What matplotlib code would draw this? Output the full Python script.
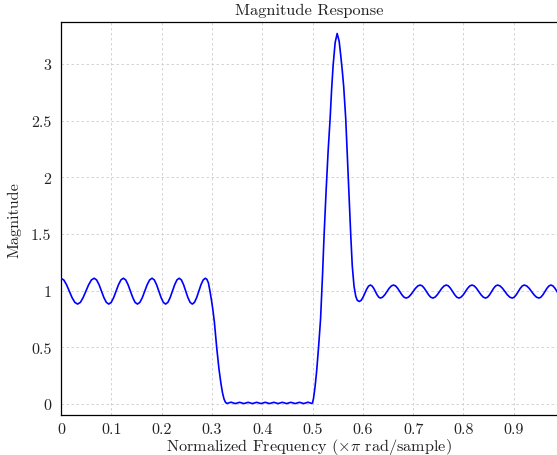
import matplotlib
matplotlib.use("Agg")
import matplotlib.pyplot as plt

plt.rcParams['font.family'] = 'serif'
plt.rcParams['font.serif'] = ['cmr10']
plt.rcParams['mathtext.fontset'] = 'cm'
plt.rcParams['axes.formatter.use_mathtext'] = True

# ---- data ----
freq_pass = [0.000, 0.0055, 0.011, 0.0165, 0.022, 0.0275,
             0.033, 0.0385, 0.044, 0.0495, 0.055, 0.0605,
             0.066, 0.0708, 0.0757, 0.0805, 0.0853, 0.0902,
             0.095, 0.0998, 0.1047, 0.1095, 0.1143, 0.1192,
             0.124, 0.1287, 0.1333, 0.138, 0.1427, 0.1473,
             0.152, 0.1568, 0.1617, 0.1665, 0.1713, 0.1762,
             0.181, 0.1855, 0.190, 0.1945, 0.199, 0.2035,
             0.208, 0.2125, 0.217, 0.2215, 0.226, 0.2305,
             0.235, 0.2393, 0.2437, 0.248, 0.2523, 0.2567,
             0.261, 0.2653, 0.2697, 0.274, 0.2783, 0.2827,
             0.287]
mag_pass = [1.109, 1.095, 1.053, 0.996, 0.939, 0.897,
            0.882, 0.897, 0.939, 0.996, 1.053, 1.095,
            1.110, 1.095, 1.053, 0.996, 0.939, 0.897,
            0.882, 0.897, 0.939, 0.996, 1.053, 1.095,
            1.110, 1.095, 1.053, 0.996, 0.939, 0.897,
            0.882, 0.897, 0.939, 0.996, 1.053, 1.095,
            1.110, 1.095, 1.053, 0.996, 0.939, 0.897,
            0.882, 0.897, 0.939, 0.996, 1.053, 1.095,
            1.110, 1.095, 1.053, 0.996, 0.939, 0.897,
            0.882, 0.897, 0.939, 0.996, 1.053, 1.095,
            1.110]

freq_trans = [0.290, 0.293, 0.296, 0.299, 0.302, 0.305, 0.3095, 0.314,
              0.318, 0.321, 0.324, 0.327, 0.330]
mag_trans = [1.100, 1.070, 1.000, 0.920, 0.830, 0.720, 0.500, 0.310,
             0.180, 0.100, 0.045, 0.015, 0.005]

freq_stop = [0.338, 0.3465, 0.355, 0.3635, 0.372, 0.3805, 0.389, 0.3975,
             0.406, 0.4145, 0.423, 0.4315, 0.440, 0.4485, 0.457, 0.4655,
             0.474, 0.4825, 0.491, 0.4985]
mag_stop = [0.016, 0.004, 0.015, 0.004, 0.015, 0.004, 0.015, 0.004,
            0.015, 0.004, 0.015, 0.004, 0.015, 0.004, 0.015, 0.004,
            0.015, 0.004, 0.016, 0.005]

freq_peak = [0.500, 0.502, 0.505, 0.508, 0.512, 0.516, 0.520, 0.523,
             0.527, 0.531, 0.535, 0.538, 0.541, 0.545, 0.549, 0.553,
             0.556, 0.559, 0.562, 0.566, 0.570, 0.573, 0.576, 0.579,
             0.5825, 0.586, 0.589]
mag_peak = [0.010, 0.050, 0.150, 0.280, 0.500, 0.750, 1.150, 1.490,
            1.880, 2.230, 2.520, 2.780, 2.990, 3.190, 3.270, 3.200,
            3.080, 2.950, 2.800, 2.520, 2.100, 1.800, 1.490, 1.220,
            1.040, 0.950, 0.915]

freq_high = [0.593, 0.5967, 0.6003, 0.604, 0.6077, 0.6113,
             0.615, 0.6183, 0.6217, 0.625, 0.6283, 0.6317,
             0.635, 0.6393, 0.6437, 0.648, 0.6523, 0.6567,
             0.661, 0.6652, 0.6693, 0.6735, 0.6777, 0.6818,
             0.686, 0.6907, 0.6953, 0.700, 0.7047, 0.7093,
             0.714, 0.7182, 0.7223, 0.7265, 0.7307, 0.7348,
             0.739, 0.7435, 0.748, 0.7525, 0.757, 0.7615,
             0.766, 0.7702, 0.7743, 0.7785, 0.7827, 0.7868,
             0.791, 0.7953, 0.7997, 0.804, 0.8083, 0.8127,
             0.817, 0.8215, 0.826, 0.8305, 0.835, 0.8395,
             0.844, 0.848, 0.852, 0.856, 0.860, 0.864,
             0.868, 0.8728, 0.8777, 0.8825, 0.8873, 0.8922,
             0.897, 0.901, 0.905, 0.909, 0.913, 0.917,
             0.921, 0.9258, 0.9307, 0.9355, 0.9403, 0.9452,
             0.950, 0.954, 0.958, 0.962, 0.966, 0.970,
             0.974, 0.978, 0.982, 0.986, 0.990]
mag_high = [0.905, 0.915, 0.941, 0.978, 1.014, 1.040,
            1.050, 1.042, 1.021, 0.9925, 0.964, 0.943,
            0.935, 0.943, 0.964, 0.9925, 1.021, 1.042,
            1.050, 1.042, 1.021, 0.9925, 0.964, 0.943,
            0.935, 0.943, 0.964, 0.9925, 1.021, 1.042,
            1.050, 1.042, 1.021, 0.9925, 0.964, 0.943,
            0.935, 0.943, 0.964, 0.9925, 1.021, 1.042,
            1.050, 1.042, 1.021, 0.9925, 0.964, 0.943,
            0.935, 0.943, 0.964, 0.9925, 1.021, 1.042,
            1.050, 1.042, 1.021, 0.9925, 0.964, 0.943,
            0.935, 0.943, 0.964, 0.9925, 1.021, 1.042,
            1.050, 1.042, 1.021, 0.9925, 0.964, 0.943,
            0.935, 0.943, 0.964, 0.9925, 1.021, 1.042,
            1.050, 1.042, 1.021, 0.9925, 0.964, 0.943,
            0.935, 0.943, 0.964, 0.9925, 1.021, 1.042,
            1.050, 1.042, 1.021, 0.9925, 0.964]

x_ticks = [0, 0.1, 0.2, 0.3, 0.4, 0.5, 0.6, 0.7, 0.8, 0.9]
x_ticklabels = ['0', '0.1', '0.2', '0.3', '0.4', '0.5', '0.6', '0.7', '0.8', '0.9']
y_ticks = [0, 0.5, 1, 1.5, 2, 2.5, 3]
y_ticklabels = ['0', '0.5', '1', '1.5', '2', '2.5', '3']

freq = freq_pass + freq_trans + freq_stop + freq_peak + freq_high
mag = mag_pass + mag_trans + mag_stop + mag_peak + mag_high

fig = plt.figure(figsize=(5.57, 4.56), dpi=100)
ax = fig.add_axes([0.1095, 0.0877, 0.8905, 0.8613])
ax.plot(freq, mag, color=(0, 0, 1), lw=1.2, solid_joinstyle='round', zorder=3)

ax.set_xlim(0, 0.986)
ax.set_ylim(-0.097, 3.369)
ax.set_xticks(x_ticks)
ax.set_xticklabels(x_ticklabels)
ax.set_yticks(y_ticks)
ax.set_yticklabels(y_ticklabels)
ax.tick_params(direction='in', length=0, labelsize=11.5, pad=5, labelcolor='#222222')
ax.tick_params(axis='y', pad=7)
ax.grid(True, color='#cccccc', linestyle=(0, (3, 3)), linewidth=0.6, zorder=0)
ax.set_axisbelow(True)
ax.spines['right'].set_visible(False)
for s in ['left', 'top', 'bottom']:
    ax.spines[s].set_linewidth(0.9)
    ax.spines[s].set_color('black')

ax.set_title('Magnitude Response', fontsize=11.8, pad=6, color='#222222')
ax.set_xlabel(r'Normalized Frequency ($\times\pi$ rad/sample)', fontsize=11.7,
              labelpad=0, color='#222222')
ax.set_ylabel('Magnitude', fontsize=11.7, labelpad=7, color='#222222')

fig.savefig('out.png', dpi=100)
